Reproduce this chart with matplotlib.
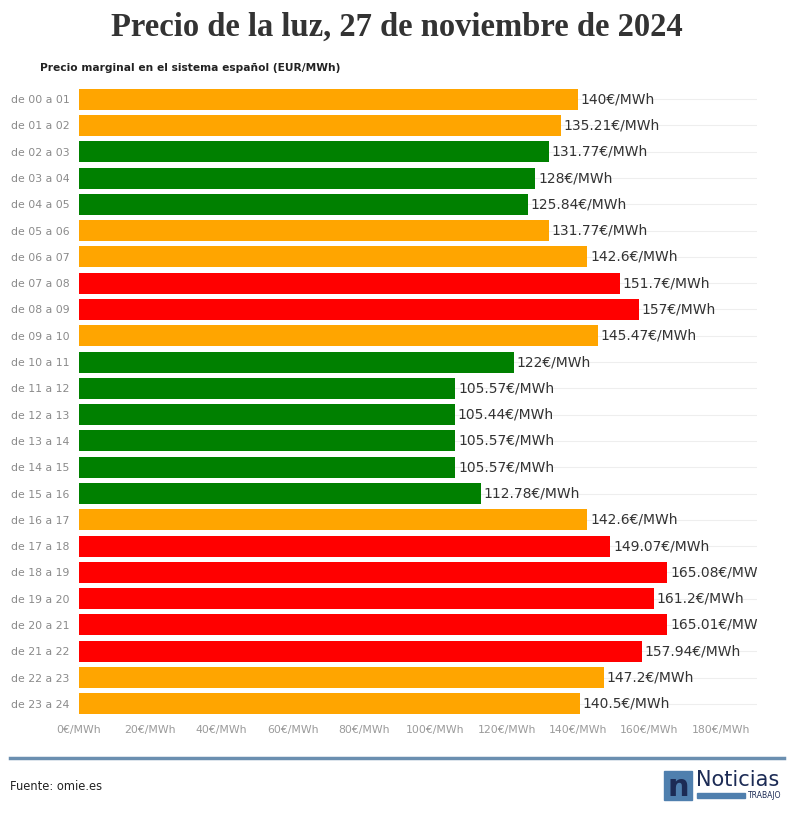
import numpy as np
import matplotlib.pyplot as plt
from matplotlib.patches import Rectangle

# ---- data ----
horas = ['de 00 a 01', 'de 01 a 02', 'de 02 a 03', 'de 03 a 04', 'de 04 a 05', 'de 05 a 06',
         'de 06 a 07', 'de 07 a 08', 'de 08 a 09', 'de 09 a 10', 'de 10 a 11', 'de 11 a 12',
         'de 12 a 13', 'de 13 a 14', 'de 14 a 15', 'de 15 a 16', 'de 16 a 17', 'de 17 a 18',
         'de 18 a 19', 'de 19 a 20', 'de 20 a 21', 'de 21 a 22', 'de 22 a 23', 'de 23 a 24']
precios = [140, 135.21, 131.77, 128, 125.84, 131.77, 142.6, 151.7, 157, 145.47, 122, 105.57,
           105.44, 105.57, 105.57, 112.78, 142.6, 149.07, 165.08, 161.2, 165.01, 157.94, 147.2, 140.5]
nivel = ['medio', 'medio', 'bajo', 'bajo', 'bajo', 'medio', 'medio', 'alto', 'alto', 'medio',
         'bajo', 'bajo', 'bajo', 'bajo', 'bajo', 'bajo', 'medio', 'alto', 'alto', 'alto', 'alto',
         'alto', 'medio', 'medio']
xticks = [0, 20, 40, 60, 80, 100, 120, 140, 160, 180]

colores = {'bajo': '#008000', 'medio': '#FFA500', 'alto': '#FF0000'}

fig = plt.figure(figsize=(7.94, 8.17), dpi=100)
ax = fig.add_axes([79 / 794, 1 - 717 / 817, (757 - 79) / 794, (717 - 86) / 817])

y = np.arange(len(horas))
ax.barh(y, precios, height=0.8, color=[colores[n] for n in nivel], zorder=2)
for yi, v in zip(y, precios):
    ax.text(v + 0.8, yi, f'{v:g}€/MWh', va='center', ha='left', fontsize=10,
            color='#333333', clip_on=True, zorder=3)

ax.set_ylim(len(horas) - 0.5, -0.5)
ax.set_xlim(0, 190.2)
ax.set_yticks(y)
ax.set_yticklabels(horas, fontsize=7.8, color='#8a8a8a')
ax.set_xticks(xticks)
ax.set_xticklabels([f'{t}€/MWh' for t in xticks], fontsize=7.8, color='#9a9a9a')
ax.tick_params(length=0, pad=7)
ax.tick_params(axis='x', pad=6)
for s in ax.spines.values():
    s.set_visible(False)
ax.grid(axis='y', color='#eeeeee', lw=0.8, zorder=0)
ax.set_axisbelow(True)

# titulos
fig.text(0.5, 1 - 27 / 817, 'Precio de la luz, 27 de noviembre de 2024', ha='center', va='center',
         fontsize=23.5, fontweight='bold', family='Liberation Serif', color='#333333')
fig.text(40 / 794, 1 - 68 / 817, 'Precio marginal en el sistema español (EUR/MWh)', ha='left',
         va='center', fontsize=7.7, fontweight='bold', color='#222222')

# pie
fig.add_artist(plt.Line2D([10 / 794, 784 / 794], [1 - 758 / 817] * 2, color='#6b8fb0', lw=2.5))
fig.text(10 / 794, 1 - 787 / 817, 'Fuente: omie.es', ha='left', va='center', fontsize=8.3,
         color='#222222')

# logo
fig.add_artist(Rectangle((664 / 794, 1 - 800 / 817), 28 / 794, 29 / 817,
                         transform=fig.transFigure, color='#4f7fae'))
fig.text(678 / 794, 1 - 787 / 817, 'n', ha='center', va='center', fontsize=22, fontweight='bold',
         color='#1c2b55')
fig.text(696 / 794, 1 - 780 / 817, 'Noticias', ha='left', va='center', fontsize=15,
         color='#1c2b55')
fig.add_artist(Rectangle((697 / 794, 1 - 798 / 817), 48 / 794, 5 / 817,
                         transform=fig.transFigure, color='#4f7fae'))
fig.text(748 / 794, 1 - 796 / 817, 'TRABAJO', ha='left', va='center', fontsize=5.5,
         color='#1c2b55')

fig.savefig('out.png', dpi=100)
